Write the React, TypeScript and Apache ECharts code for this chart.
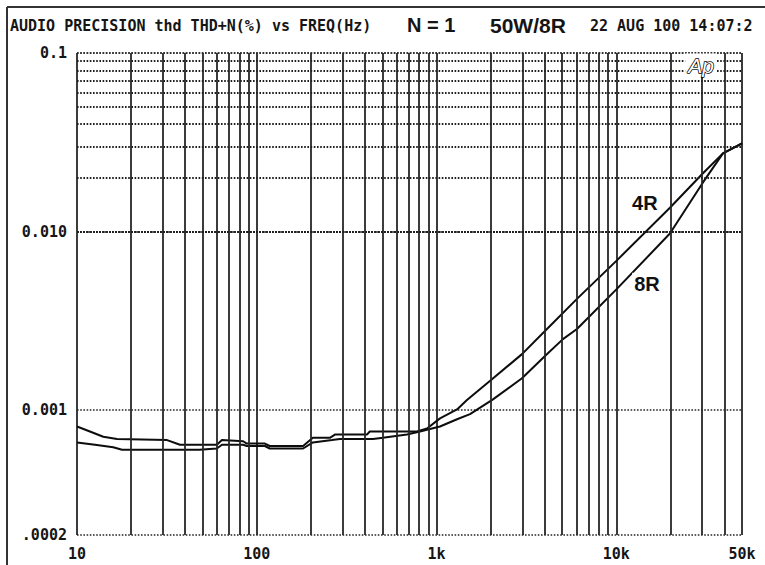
import React, { useEffect, useRef } from "react";
import * as echarts from "echarts";

// ---- data ----
const freq4R = [10, 11.8, 14, 16.7, 31.7, 37.4, 60, 64, 84, 88, 111, 118, 181, 205, 255, 272, 410, 425, 778, 885, 1045, 1300, 1476, 2033, 2987, 4113, 6040, 10070, 19860, 30330, 39170, 50000];
const thd4R = [0.00081, 0.00076, 0.00071, 0.00069, 0.00068, 0.00064, 0.00064, 0.00068, 0.00067, 0.00065, 0.00065, 0.00063, 0.00063, 0.0007, 0.0007, 0.00073, 0.00073, 0.00076, 0.00076, 0.00079, 0.0009, 0.00101, 0.00114, 0.00149, 0.00206, 0.00285, 0.0042, 0.0069, 0.0136, 0.0212, 0.0274, 0.0312];

const freq8R = [10, 12.6, 15.9, 17.8, 48, 60, 64, 84, 88, 111, 118, 181, 205, 262, 290, 443, 503, 685, 809, 1045, 1300, 1535, 2060, 2987, 4010, 5046, 6040, 10070, 19860, 30330, 39170, 50000];
const thd8R = [0.00066, 0.00064, 0.00062, 0.0006, 0.0006, 0.00061, 0.00064, 0.00064, 0.00063, 0.00063, 0.00061, 0.00061, 0.00066, 0.00068, 0.00069, 0.00069, 0.0007, 0.00073, 0.00076, 0.00081, 0.00089, 0.00095, 0.00115, 0.00151, 0.00201, 0.0025, 0.00285, 0.00478, 0.00975, 0.01885, 0.0274, 0.0312];

const seriesNames = ["4R", "8R"];
const seriesLabelAt = [
  [14400, 0.0145],
  [14800, 0.0051],
];

const xTickValues = [10, 100, 1000, 10000, 50000];
const xTickLabels = ["10", "100", "1k", "10k", "50k"];
const yTickValues = [0.0002, 0.001, 0.01, 0.1];
const yTickLabels = [".0002", "0.001", "0.010", "0.1"];

const xMinorGrid = [20, 30, 40, 50, 60, 70, 80, 90, 200, 300, 400, 500, 600, 700, 800, 900, 2000, 3000, 4000, 5000, 6000, 7000, 8000, 9000, 20000, 30000, 40000];
const yMinorGrid = [0.0003, 0.0004, 0.0005, 0.0006, 0.0007, 0.0008, 0.0009, 0.002, 0.003, 0.004, 0.005, 0.006, 0.007, 0.008, 0.009, 0.02, 0.03, 0.04, 0.05, 0.06, 0.07, 0.08, 0.09];

const titleMain = "AUDIO PRECISION thd THD+N(%) vs FREQ(Hz)";
const titleN = "N = 1";
const titlePower = "50W/8R";
const titleDate = "22 AUG 100 14:07:2";
const logoText = "Ap";

const MONO = '"DejaVu Sans Mono", "Liberation Mono", monospace';
const SANS = '"Liberation Sans", Arial, sans-serif';
const INK = "#151515";

function pickLabel(value: number, ticks: number[], labels: string[]) {
  const i = ticks.findIndex((t) => Math.abs(Math.log10(value) - Math.log10(t)) < 0.01);
  return i >= 0 ? labels[i] : "";
}

const vLineStyle = { color: "#262626", width: 1.8, type: "solid" as const, opacity: 1 };
const hLineStyle = { color: "#262626", width: 1.6, type: [1.6, 1.6] as any, opacity: 1 };
const hMinorLineStyle = { color: "#1e1e1e", width: 2, type: [1.6, 1.6] as any, opacity: 1 };

export default function App() {
  const ref = useRef<HTMLDivElement>(null);

  useEffect(() => {
    if (!ref.current) return;
    const chart = echarts.init(ref.current, undefined, { renderer: "svg" });

    const curves = [
      freq4R.map((f, i) => [f, thd4R[i]]),
      freq8R.map((f, i) => [f, thd8R[i]]),
    ];

    const option: any = {
      animation: false,
      backgroundColor: "#ffffff",
      grid: { left: 77, top: 53, width: 665, height: 482 },
      xAxis: {
        type: "log",
        logBase: 10,
        min: 10,
        max: 50000,
        axisLine: { show: false },
        axisTick: { show: false },
        splitLine: { show: true, lineStyle: vLineStyle },
        axisLabel: {
          showMinLabel: true,
          showMaxLabel: true,
          margin: 11,
          fontFamily: MONO,
          fontWeight: "bold",
          fontSize: 15,
          color: INK,
          formatter: (v: number) => pickLabel(v, xTickValues, xTickLabels),
        },
      },
      yAxis: {
        type: "log",
        logBase: 10,
        min: 0.0002,
        max: 0.1,
        axisLine: { show: false },
        axisTick: { show: false },
        splitLine: { show: true, lineStyle: hLineStyle },
        axisLabel: {
          showMinLabel: true,
          showMaxLabel: true,
          margin: 10,
          fontFamily: MONO,
          fontWeight: "bold",
          fontSize: 15,
          color: INK,
          formatter: (v: number) => pickLabel(v, yTickValues, yTickLabels),
        },
      },
      series: [
        {
          name: "grid",
          type: "line",
          data: [[10, 0.001]],
          showSymbol: false,
          symbol: "none",
          lineStyle: { width: 0 },
          silent: true,
          z: 1,
          markLine: {
            silent: true,
            symbol: "none",
            label: { show: false },
            animation: false,
            lineStyle: { opacity: 1 },
            emphasis: { disabled: true },
            data: [
              ...xMinorGrid.map((x) => ({ xAxis: x, lineStyle: vLineStyle })),
              ...yMinorGrid.map((y) => ({ yAxis: y, lineStyle: hMinorLineStyle })),
            ],
          },
        },
        ...curves.map((d, k) => ({
          name: seriesNames[k],
          type: "line",
          data: d,
          showSymbol: false,
          symbol: "none",
          z: 3,
          lineStyle: { color: "#0d0d0d", width: 2 },
          markPoint: {
            silent: true,
            symbol: "circle",
            symbolSize: 1,
            itemStyle: { color: "rgba(0,0,0,0)" },
            label: {
              show: true,
              position: "inside",
              formatter: seriesNames[k],
              fontFamily: SANS,
              fontWeight: "bold",
              fontSize: 20,
              color: "#111111",
              backgroundColor: "#ffffff",
              padding: [1, 2],
            },
            data: [{ coord: seriesLabelAt[k] }],
          },
        })),
      ],
      graphic: [
        { type: "line", shape: { x1: 7, y1: 7, x2: 765, y2: 7 }, style: { stroke: "#333", lineWidth: 2 }, silent: true },
        { type: "line", shape: { x1: 7, y1: 7, x2: 7, y2: 565 }, style: { stroke: "#333", lineWidth: 2 }, silent: true },
        {
          type: "text",
          x: 10,
          y: 26,
          style: { text: titleMain, font: `bold 15px ${MONO}`, fill: INK, verticalAlign: "middle", align: "left" },
        },
        {
          type: "text",
          x: 407,
          y: 25,
          style: { text: titleN, font: `bold 20px ${SANS}`, fill: INK, verticalAlign: "middle", align: "left" },
        },
        {
          type: "text",
          x: 490,
          y: 25,
          style: { text: titlePower, font: `bold 21px ${SANS}`, fill: INK, verticalAlign: "middle", align: "left" },
        },
        {
          type: "text",
          x: 590,
          y: 26,
          style: { text: titleDate, font: `bold 15px ${MONO}`, fill: INK, verticalAlign: "middle", align: "left" },
        },
        {
          type: "text",
          x: 701,
          y: 65,
          z: 10,
          style: {
            text: logoText,
            font: `italic 21px ${SANS}`,
            fill: "#ffffff",
            stroke: "#000000",
            lineWidth: 1.5,
            verticalAlign: "middle",
            align: "center",
            backgroundColor: "#ffffff",
            padding: [1, 3],
          },
        },
      ],
    };

    chart.setOption(option);
    return () => chart.dispose();
  }, []);

  return (
    <div
      ref={ref}
      style={{ position: "fixed", left: 0, top: 0, width: 765, height: 565, background: "#fff" }}
    />
  );
}
